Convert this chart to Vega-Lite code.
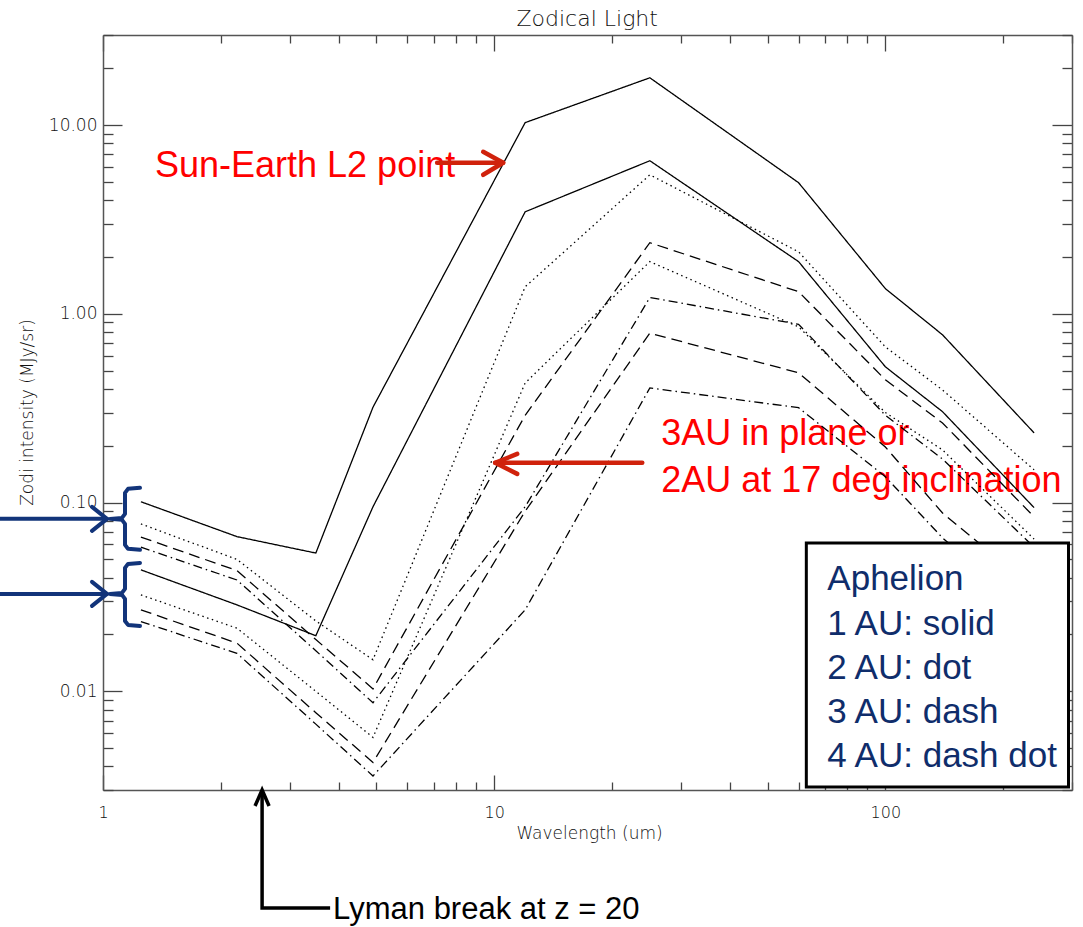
{
  "$schema": "https://vega.github.io/schema/vega-lite/v6.json",
  "width": 969,
  "height": 755,
  "autosize": {"type": "none"},
  "padding": {"left": 103, "top": 35, "right": 11, "bottom": 137},
  "background": "white",
  "config": {
    "view": {"stroke": null},
    "axis": {
      "grid": false,
      "domainColor": "#555555",
      "domainWidth": 1.5,
      "tickColor": "#444444",
      "tickWidth": 1.3,
      "labelFont": "DejaVu Sans",
      "labelFontWeight": 300,
      "labelColor": "#111111",
      "titleFont": "DejaVu Sans",
      "titleFontWeight": 300,
      "titleColor": "#111111",
      "labelOverlap": false,
      "labelFlush": false,
      "labelBound": false
    }
  },
  "datasets": {
    "zodi": [
      {"s": "a", "au": "1 AU", "wl": 1.25, "I": 0.101},
      {"s": "a", "au": "1 AU", "wl": 2.2, "I": 0.066},
      {"s": "a", "au": "1 AU", "wl": 3.5, "I": 0.054},
      {"s": "a", "au": "1 AU", "wl": 4.9, "I": 0.32},
      {"s": "a", "au": "1 AU", "wl": 12, "I": 10.3},
      {"s": "a", "au": "1 AU", "wl": 25, "I": 17.8},
      {"s": "a", "au": "1 AU", "wl": 60, "I": 4.95},
      {"s": "a", "au": "1 AU", "wl": 100, "I": 1.36},
      {"s": "a", "au": "1 AU", "wl": 140, "I": 0.774},
      {"s": "a", "au": "1 AU", "wl": 240, "I": 0.234},
      {"s": "a", "au": "2 AU", "wl": 1.25, "I": 0.077},
      {"s": "a", "au": "2 AU", "wl": 2.2, "I": 0.05},
      {"s": "a", "au": "2 AU", "wl": 3.5, "I": 0.0236},
      {"s": "a", "au": "2 AU", "wl": 4.9, "I": 0.0147},
      {"s": "a", "au": "2 AU", "wl": 12, "I": 1.39},
      {"s": "a", "au": "2 AU", "wl": 25, "I": 5.45},
      {"s": "a", "au": "2 AU", "wl": 60, "I": 2.13},
      {"s": "a", "au": "2 AU", "wl": 100, "I": 0.668},
      {"s": "a", "au": "2 AU", "wl": 140, "I": 0.395},
      {"s": "a", "au": "2 AU", "wl": 240, "I": 0.149},
      {"s": "a", "au": "3 AU", "wl": 1.25, "I": 0.0656},
      {"s": "a", "au": "3 AU", "wl": 2.2, "I": 0.0436},
      {"s": "a", "au": "3 AU", "wl": 3.5, "I": 0.0188},
      {"s": "a", "au": "3 AU", "wl": 4.9, "I": 0.0103},
      {"s": "a", "au": "3 AU", "wl": 12, "I": 0.29},
      {"s": "a", "au": "3 AU", "wl": 25, "I": 2.38},
      {"s": "a", "au": "3 AU", "wl": 60, "I": 1.31},
      {"s": "a", "au": "3 AU", "wl": 100, "I": 0.447},
      {"s": "a", "au": "3 AU", "wl": 140, "I": 0.264},
      {"s": "a", "au": "3 AU", "wl": 240, "I": 0.084},
      {"s": "a", "au": "4 AU", "wl": 1.25, "I": 0.058},
      {"s": "a", "au": "4 AU", "wl": 2.2, "I": 0.0389},
      {"s": "a", "au": "4 AU", "wl": 3.5, "I": 0.0164},
      {"s": "a", "au": "4 AU", "wl": 4.9, "I": 0.0087},
      {"s": "a", "au": "4 AU", "wl": 12, "I": 0.095},
      {"s": "a", "au": "4 AU", "wl": 25, "I": 1.22},
      {"s": "a", "au": "4 AU", "wl": 60, "I": 0.88},
      {"s": "a", "au": "4 AU", "wl": 100, "I": 0.29},
      {"s": "a", "au": "4 AU", "wl": 140, "I": 0.17},
      {"s": "a", "au": "4 AU", "wl": 240, "I": 0.058},
      {"s": "b", "au": "1 AU", "wl": 1.25, "I": 0.044},
      {"s": "b", "au": "1 AU", "wl": 2.2, "I": 0.0287},
      {"s": "b", "au": "1 AU", "wl": 3.5, "I": 0.0197},
      {"s": "b", "au": "1 AU", "wl": 4.9, "I": 0.095},
      {"s": "b", "au": "1 AU", "wl": 12, "I": 3.47},
      {"s": "b", "au": "1 AU", "wl": 25, "I": 6.47},
      {"s": "b", "au": "1 AU", "wl": 60, "I": 1.89},
      {"s": "b", "au": "1 AU", "wl": 100, "I": 0.524},
      {"s": "b", "au": "1 AU", "wl": 140, "I": 0.303},
      {"s": "b", "au": "1 AU", "wl": 240, "I": 0.094},
      {"s": "b", "au": "2 AU", "wl": 1.25, "I": 0.0324},
      {"s": "b", "au": "2 AU", "wl": 2.2, "I": 0.0216},
      {"s": "b", "au": "2 AU", "wl": 3.5, "I": 0.01},
      {"s": "b", "au": "2 AU", "wl": 4.9, "I": 0.0057},
      {"s": "b", "au": "2 AU", "wl": 12, "I": 0.43},
      {"s": "b", "au": "2 AU", "wl": 25, "I": 1.89},
      {"s": "b", "au": "2 AU", "wl": 60, "I": 0.853},
      {"s": "b", "au": "2 AU", "wl": 100, "I": 0.3},
      {"s": "b", "au": "2 AU", "wl": 140, "I": 0.19},
      {"s": "b", "au": "2 AU", "wl": 240, "I": 0.064},
      {"s": "b", "au": "3 AU", "wl": 1.25, "I": 0.027},
      {"s": "b", "au": "3 AU", "wl": 2.2, "I": 0.018},
      {"s": "b", "au": "3 AU", "wl": 3.5, "I": 0.0077},
      {"s": "b", "au": "3 AU", "wl": 4.9, "I": 0.0042},
      {"s": "b", "au": "3 AU", "wl": 12, "I": 0.09},
      {"s": "b", "au": "3 AU", "wl": 25, "I": 0.79},
      {"s": "b", "au": "3 AU", "wl": 60, "I": 0.487},
      {"s": "b", "au": "3 AU", "wl": 100, "I": 0.197},
      {"s": "b", "au": "3 AU", "wl": 140, "I": 0.088},
      {"s": "b", "au": "3 AU", "wl": 240, "I": 0.035},
      {"s": "b", "au": "4 AU", "wl": 1.25, "I": 0.0234},
      {"s": "b", "au": "4 AU", "wl": 2.2, "I": 0.0159},
      {"s": "b", "au": "4 AU", "wl": 3.5, "I": 0.0067},
      {"s": "b", "au": "4 AU", "wl": 4.9, "I": 0.00356},
      {"s": "b", "au": "4 AU", "wl": 12, "I": 0.027},
      {"s": "b", "au": "4 AU", "wl": 25, "I": 0.405},
      {"s": "b", "au": "4 AU", "wl": 60, "I": 0.318},
      {"s": "b", "au": "4 AU", "wl": 100, "I": 0.137},
      {"s": "b", "au": "4 AU", "wl": 140, "I": 0.065},
      {"s": "b", "au": "4 AU", "wl": 240, "I": 0.025}
    ],
    "heading": [
      {"x": 17.29, "y": 33.5, "text": "Zodical Light"}
    ],
    "notes": [
      {"x": 1.358, "y": 5.29, "text": "Sun-Earth L2 point"},
      {"x": 26.74, "y": 0.2022, "text": "3AU in plane or"},
      {"x": 26.74, "y": 0.1139, "text": "2AU at 17 deg inclination"}
    ],
    "keyBox": [
      {"x0": 62.8, "x1": 293.9, "y0": 0.0611, "y1": 0.003114}
    ],
    "keyText": [
      {"x": 71.07, "y": 0.03447, "text": "Aphelion"},
      {"x": 71.07, "y": 0.0199, "text": "1 AU: solid"},
      {"x": 71.07, "y": 0.01163, "text": "2 AU: dot"},
      {"x": 71.07, "y": 0.006801, "text": "3 AU: dash"},
      {"x": 71.07, "y": 0.003976, "text": "4 AU: dash dot"}
    ],
    "redArrows": [
      {"path": "l2-shaft", "seq": 0, "x": 7.147, "y": 6.312},
      {"path": "l2-shaft", "seq": 1, "x": 10.545, "y": 6.312},
      {"path": "l2-head", "seq": 0, "x": 9.373, "y": 7.222},
      {"path": "l2-head", "seq": 1, "x": 10.545, "y": 6.312},
      {"path": "l2-head", "seq": 2, "x": 9.373, "y": 5.453},
      {"path": "au-shaft", "seq": 0, "x": 23.91, "y": 0.1623},
      {"path": "au-shaft", "seq": 1, "x": 10.06, "y": 0.1623},
      {"path": "au-head", "seq": 0, "x": 11.45, "y": 0.1811},
      {"path": "au-head", "seq": 1, "x": 10.06, "y": 0.1623},
      {"path": "au-head", "seq": 2, "x": 11.45, "y": 0.1419}
    ],
    "blueMarks": [
      {"path": "arrow1", "seq": 0, "x": 0.5452, "y": 0.08195},
      {"path": "arrow1", "seq": 1, "x": 1.0238, "y": 0.08195},
      {"path": "head1", "seq": 0, "x": 0.9373, "y": 0.09489},
      {"path": "head1", "seq": 1, "x": 1.0238, "y": 0.08195},
      {"path": "head1", "seq": 2, "x": 0.9373, "y": 0.0708},
      {"path": "arrow2", "seq": 0, "x": 0.5452, "y": 0.03282},
      {"path": "arrow2", "seq": 1, "x": 1.0238, "y": 0.03282},
      {"path": "head2", "seq": 0, "x": 0.9373, "y": 0.038},
      {"path": "head2", "seq": 1, "x": 1.0238, "y": 0.03282},
      {"path": "head2", "seq": 2, "x": 0.9373, "y": 0.02835},
      {"path": "brace1", "seq": 0, "x": 1.2433, "y": 0.11966},
      {"path": "brace1", "seq": 1, "x": 1.1587, "y": 0.11821},
      {"path": "brace1", "seq": 2, "x": 1.1383, "y": 0.11256},
      {"path": "brace1", "seq": 3, "x": 1.1383, "y": 0.08711},
      {"path": "brace1", "seq": 4, "x": 1.1183, "y": 0.08296},
      {"path": "brace1", "seq": 5, "x": 1.0421, "y": 0.08195},
      {"path": "brace1", "seq": 6, "x": 1.1183, "y": 0.08096},
      {"path": "brace1", "seq": 7, "x": 1.1383, "y": 0.0771},
      {"path": "brace1", "seq": 8, "x": 1.1383, "y": 0.05969},
      {"path": "brace1", "seq": 9, "x": 1.1587, "y": 0.05684},
      {"path": "brace1", "seq": 10, "x": 1.2433, "y": 0.05615},
      {"path": "brace2", "seq": 0, "x": 1.2433, "y": 0.0479},
      {"path": "brace2", "seq": 1, "x": 1.1587, "y": 0.04732},
      {"path": "brace2", "seq": 2, "x": 1.1383, "y": 0.04508},
      {"path": "brace2", "seq": 3, "x": 1.1383, "y": 0.03489},
      {"path": "brace2", "seq": 4, "x": 1.1183, "y": 0.03322},
      {"path": "brace2", "seq": 5, "x": 1.0421, "y": 0.03282},
      {"path": "brace2", "seq": 6, "x": 1.1183, "y": 0.03242},
      {"path": "brace2", "seq": 7, "x": 1.1383, "y": 0.03087},
      {"path": "brace2", "seq": 8, "x": 1.1383, "y": 0.0236},
      {"path": "brace2", "seq": 9, "x": 1.1587, "y": 0.02248},
      {"path": "brace2", "seq": 10, "x": 1.2433, "y": 0.02221}
    ],
    "lymanArrow": [
      {"path": "shaft", "seq": 0, "x": 3.807, "y": 0.000711},
      {"path": "shaft", "seq": 1, "x": 2.551, "y": 0.000711},
      {"path": "shaft", "seq": 2, "x": 2.551, "y": 0.003002},
      {"path": "head", "seq": 0, "x": 2.447, "y": 0.00247},
      {"path": "head", "seq": 1, "x": 2.551, "y": 0.003002},
      {"path": "head", "seq": 2, "x": 2.658, "y": 0.00247}
    ],
    "lymanText": [
      {"x": 3.875, "y": 0.000622, "text": "Lyman break at z = 20"}
    ]
  },
  "layer": [
    {
      "data": {"name": "heading"},
      "mark": {"type": "text", "font": "DejaVu Sans", "fontSize": 22, "fontWeight": 300, "color": "#111111", "align": "center", "baseline": "alphabetic"},
      "encoding": {
        "x": {"field": "x", "type": "quantitative", "scale": {"type": "log", "domain": [1, 300], "nice": false}, "axis": null},
        "y": {"field": "y", "type": "quantitative", "scale": {"type": "log", "domain": [0.003, 30], "nice": false}, "axis": null},
        "text": {"field": "text"}
      }
    },
    {
      "data": {"name": "notes"},
      "mark": {"type": "text", "font": "Liberation Sans", "fontSize": 36, "color": "#FF0000", "align": "left", "baseline": "alphabetic"},
      "encoding": {
        "x": {"field": "x", "type": "quantitative", "scale": {"type": "log", "domain": [1, 300], "nice": false}, "axis": null},
        "y": {"field": "y", "type": "quantitative", "scale": {"type": "log", "domain": [0.003, 30], "nice": false}, "axis": null},
        "text": {"field": "text"}
      }
    },
    {
      "data": {"name": "zodi"},
      "mark": {"type": "line", "color": "black", "strokeWidth": 1.3},
      "encoding": {
        "x": {
          "field": "wl", "type": "quantitative",
          "scale": {"type": "log", "domain": [1, 300], "nice": false},
          "axis": {
            "orient": "bottom",
            "values": [1, 2, 3, 4, 5, 6, 7, 8, 9, 10, 20, 30, 40, 50, 60, 70, 80, 90, 100, 200, 300],
            "tickSize": {"condition": {"test": "abs(log(datum.value)/LN10 - round(log(datum.value)/LN10)) < 0.001", "value": -15}, "value": -8},
            "labelPadding": {"condition": {"test": "abs(log(datum.value)/LN10 - round(log(datum.value)/LN10)) < 0.001", "value": 29}, "value": 22},
            "labelExpr": "abs(log(datum.value)/LN10 - round(log(datum.value)/LN10)) < 0.001 ? format(datum.value, '~g') : ''",
            "labelFontSize": 16,
            "title": "Wavelength (um)",
            "titleFontSize": 17,
            "titleX": 486,
            "titleY": 48,
            "titleAlign": "center",
            "titleBaseline": "alphabetic"
          }
        },
        "y": {
          "field": "I", "type": "quantitative",
          "scale": {"type": "log", "domain": [0.003, 30], "nice": false},
          "axis": {
            "orient": "left",
            "values": [0.003, 0.004, 0.005, 0.006, 0.007, 0.008, 0.009, 0.01, 0.02, 0.03, 0.04, 0.05, 0.06, 0.07, 0.08, 0.09, 0.1, 0.2, 0.3, 0.4, 0.5, 0.6, 0.7, 0.8, 0.9, 1, 2, 3, 4, 5, 6, 7, 8, 9, 10, 20, 30],
            "tickSize": {"condition": {"test": "abs(log(datum.value)/LN10 - round(log(datum.value)/LN10)) < 0.001", "value": -19}, "value": -10},
            "labelPadding": {"condition": {"test": "abs(log(datum.value)/LN10 - round(log(datum.value)/LN10)) < 0.001", "value": 25}, "value": 16},
            "labelExpr": "abs(log(datum.value)/LN10 - round(log(datum.value)/LN10)) < 0.001 ? format(datum.value, '.2f') : ''",
            "labelFontSize": 17,
            "title": "Zodi intensity (MJy/sr)",
            "titleFontSize": 17,
            "titleAngle": -90,
            "titleX": -76,
            "titleY": 377,
            "titleAlign": "center",
            "titleBaseline": "middle"
          }
        },
        "detail": {"field": "s"},
        "strokeDash": {
          "field": "au", "type": "nominal",
          "scale": {"domain": ["1 AU", "2 AU", "3 AU", "4 AU"], "range": [[1, 0], [1.5, 3.5], [11, 6], [9, 4, 1.5, 4]]},
          "legend": null
        }
      }
    },
    {
      "data": {"name": "keyBox"},
      "mark": {"type": "rect", "fill": "white", "stroke": "black", "strokeWidth": 3},
      "encoding": {
        "x": {
          "field": "x0", "type": "quantitative",
          "scale": {"type": "log", "domain": [1, 300], "nice": false},
          "axis": {
            "orient": "top",
            "values": [1, 2, 3, 4, 5, 6, 7, 8, 9, 10, 20, 30, 40, 50, 60, 70, 80, 90, 100, 200, 300],
            "tickSize": {"condition": {"test": "abs(log(datum.value)/LN10 - round(log(datum.value)/LN10)) < 0.001", "value": -16}, "value": -8},
            "labels": false,
            "title": null
          }
        },
        "x2": {"field": "x1"},
        "y": {
          "field": "y0", "type": "quantitative",
          "scale": {"type": "log", "domain": [0.003, 30], "nice": false},
          "axis": {
            "orient": "right",
            "values": [0.003, 0.004, 0.005, 0.006, 0.007, 0.008, 0.009, 0.01, 0.02, 0.03, 0.04, 0.05, 0.06, 0.07, 0.08, 0.09, 0.1, 0.2, 0.3, 0.4, 0.5, 0.6, 0.7, 0.8, 0.9, 1, 2, 3, 4, 5, 6, 7, 8, 9, 10, 20, 30],
            "tickSize": {"condition": {"test": "abs(log(datum.value)/LN10 - round(log(datum.value)/LN10)) < 0.001", "value": -20}, "value": -10},
            "labels": false,
            "title": null
          }
        },
        "y2": {"field": "y1"}
      }
    },
    {
      "data": {"name": "keyText"},
      "mark": {"type": "text", "font": "Liberation Sans", "fontSize": 35, "color": "#0F2D6B", "align": "left", "baseline": "alphabetic"},
      "encoding": {
        "x": {"field": "x", "type": "quantitative", "scale": {"type": "log", "domain": [1, 300], "nice": false}, "axis": null},
        "y": {"field": "y", "type": "quantitative", "scale": {"type": "log", "domain": [0.003, 30], "nice": false}, "axis": null},
        "text": {"field": "text"}
      }
    },
    {
      "data": {"name": "redArrows"},
      "mark": {"type": "line", "color": "#D0220C", "strokeWidth": 4.5, "strokeCap": "round", "strokeJoin": "round"},
      "encoding": {
        "x": {"field": "x", "type": "quantitative", "scale": {"type": "log", "domain": [1, 300], "nice": false}, "axis": null},
        "y": {"field": "y", "type": "quantitative", "scale": {"type": "log", "domain": [0.003, 30], "nice": false}, "axis": null},
        "detail": {"field": "path"},
        "order": {"field": "seq", "type": "quantitative"}
      }
    },
    {
      "data": {"name": "blueMarks"},
      "mark": {"type": "line", "color": "#12347A", "strokeWidth": 4, "strokeCap": "round", "strokeJoin": "round"},
      "encoding": {
        "x": {"field": "x", "type": "quantitative", "scale": {"type": "log", "domain": [1, 300], "nice": false}, "axis": null},
        "y": {"field": "y", "type": "quantitative", "scale": {"type": "log", "domain": [0.003, 30], "nice": false}, "axis": null},
        "detail": {"field": "path"},
        "order": {"field": "seq", "type": "quantitative"}
      }
    },
    {
      "data": {"name": "lymanArrow"},
      "mark": {"type": "line", "color": "black", "strokeWidth": 3.5, "strokeJoin": "miter"},
      "encoding": {
        "x": {"field": "x", "type": "quantitative", "scale": {"type": "log", "domain": [1, 300], "nice": false}, "axis": null},
        "y": {"field": "y", "type": "quantitative", "scale": {"type": "log", "domain": [0.003, 30], "nice": false}, "axis": null},
        "detail": {"field": "path"},
        "order": {"field": "seq", "type": "quantitative"}
      }
    },
    {
      "data": {"name": "lymanText"},
      "mark": {"type": "text", "font": "Liberation Sans", "fontSize": 31, "color": "black", "align": "left", "baseline": "alphabetic"},
      "encoding": {
        "x": {"field": "x", "type": "quantitative", "scale": {"type": "log", "domain": [1, 300], "nice": false}, "axis": null},
        "y": {"field": "y", "type": "quantitative", "scale": {"type": "log", "domain": [0.003, 30], "nice": false}, "axis": null},
        "text": {"field": "text"}
      }
    }
  ],
  "resolve": {"axis": {"x": "independent", "y": "independent"}}
}
